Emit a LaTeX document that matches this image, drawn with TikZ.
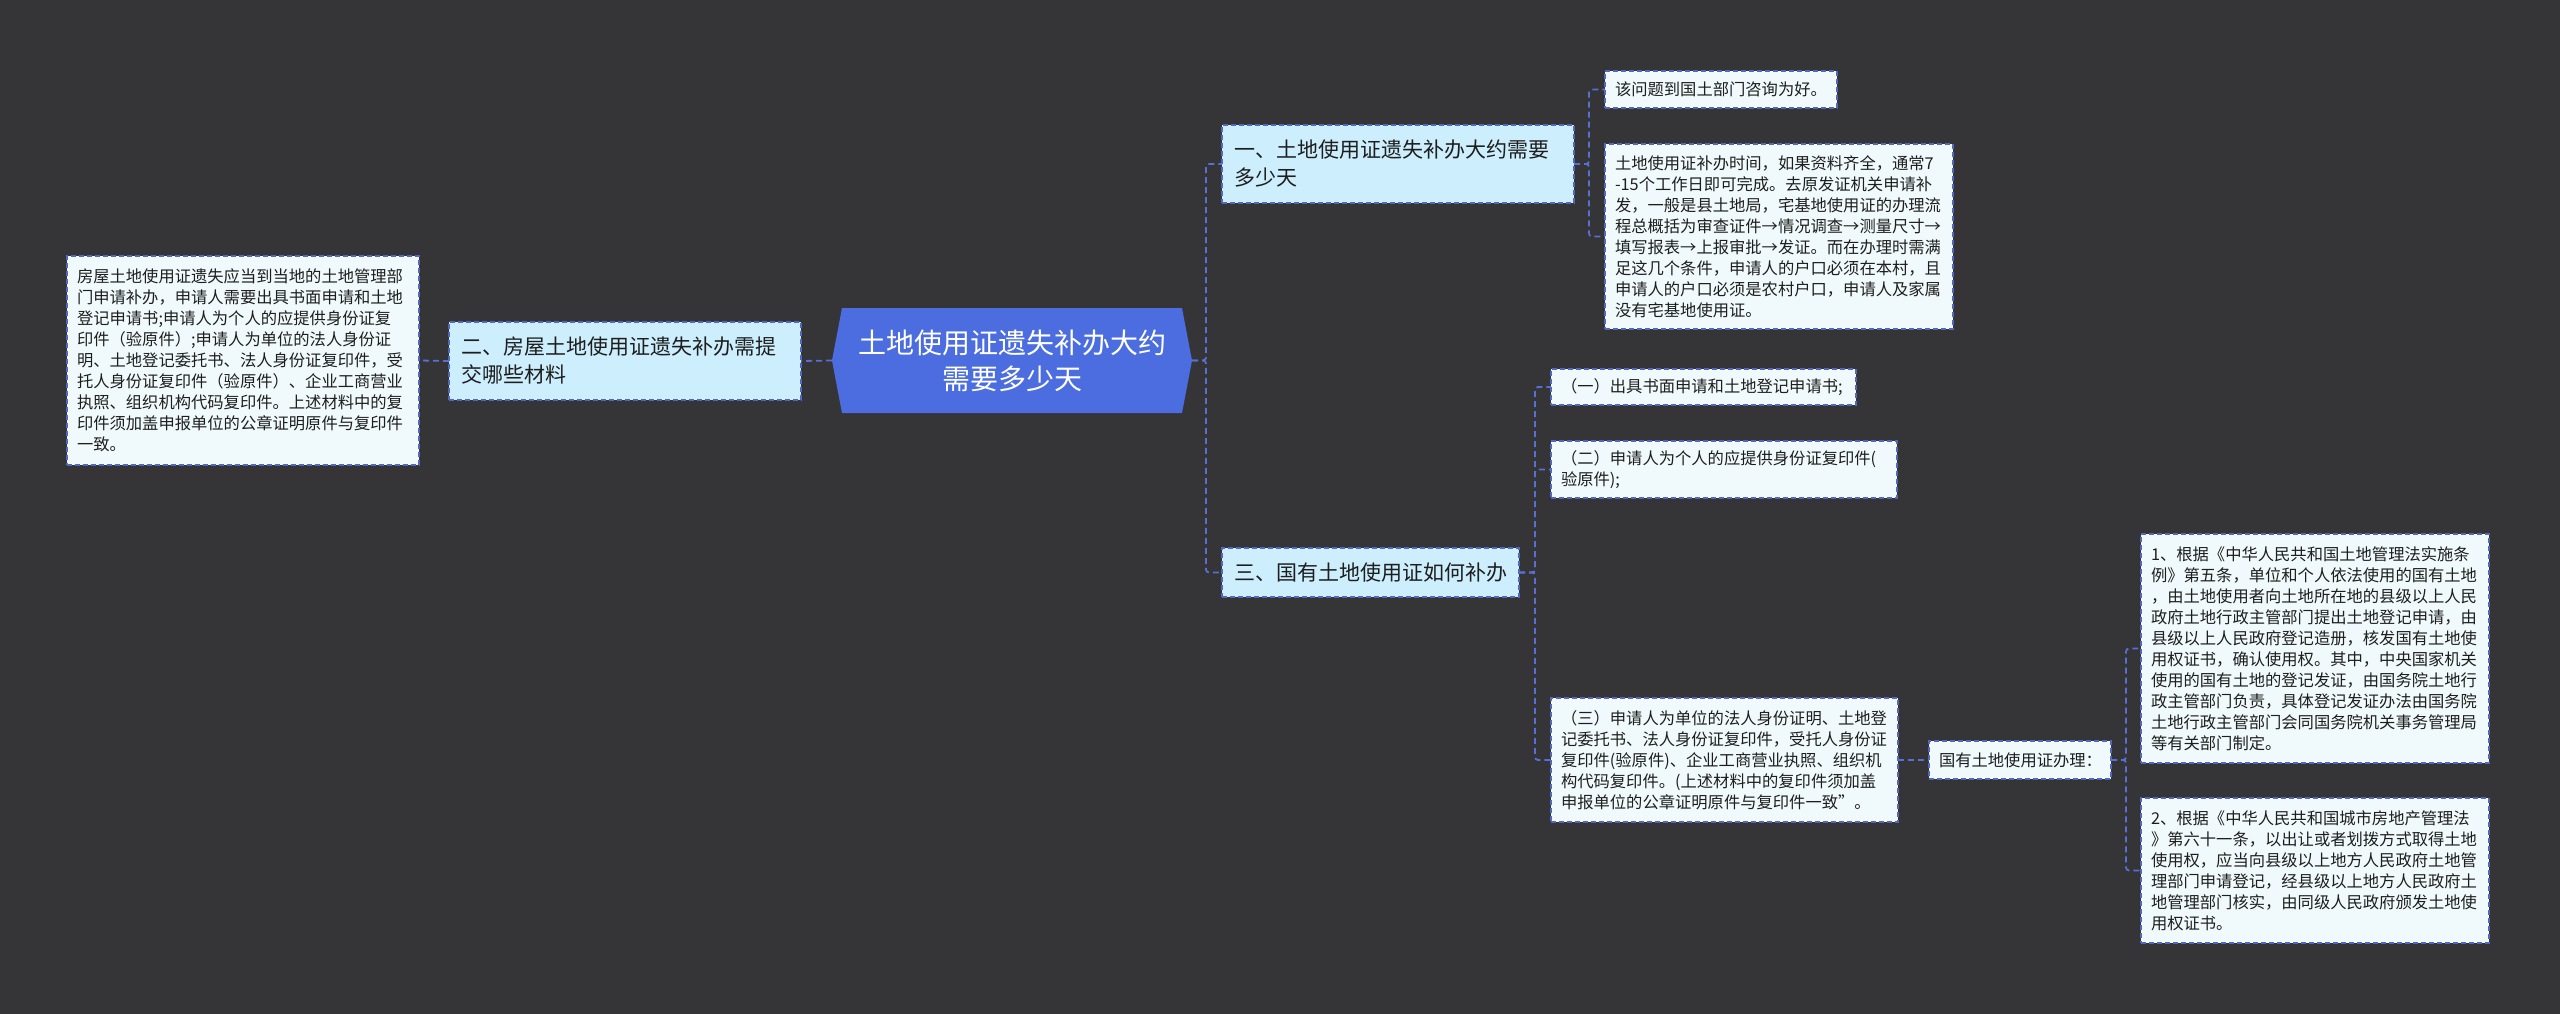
\documentclass[tikz,border=0pt]{standalone}
\usepackage{fontspec}
\setmainfont{Noto Sans CJK SC}
\definecolor{bg}{RGB}{53,52,55}
\definecolor{centerfill}{RGB}{75,109,223}
\definecolor{topicfill}{RGB}{205,238,252}
\definecolor{leaffill}{RGB}{240,250,253}
\definecolor{bordercol}{RGB}{82,104,192}
\definecolor{conncol}{RGB}{88,112,212}
\definecolor{textcol}{RGB}{30,30,30}
\begin{document}
\begin{tikzpicture}[x=1pt,y=-1pt,
  box/.style={draw=bordercol, dash pattern=on 5pt off 3pt, line width=1.5pt, text=textcol, align=left, anchor=north west, inner ysep=0pt, outer sep=0pt},
  leaf/.style={box, fill=leaffill, font=\fontsize{16.3}{21}\selectfont, inner xsep=10pt},
  topic/.style={box, fill=topicfill, font=\fontsize{21}{28}\selectfont, inner xsep=12pt},
  conn/.style={draw=conncol, line width=1.8pt, dash pattern=on 6pt off 4pt, rounded corners=3pt}]
\fill[bg] (0,0) rectangle (2560,1014);
\useasboundingbox (0,0) rectangle (2560,1014);

% central topic
\fill[centerfill] (832,360.5) -- (842,308) -- (1182,308) -- (1192,360.5) -- (1182,413) -- (842,413) -- cycle;
\node[font=\fontsize{28}{36}\selectfont, text=white, align=center, minimum width=360pt, minimum height=105pt, inner sep=0pt, outer sep=0pt] (c0) at (1012,360.5) {土地使用证遗失补办大约\\需要多少天};

% left branch
\node[topic, text width=328pt, minimum height=78pt] (n2) at (449,322) {二、房屋土地使用证遗失补办需提\\交哪些材料};
\node[leaf, text width=332pt, minimum height=209pt] (L) at (67,256) {房屋土地使用证遗失应当到当地的土地管理部\\门申请补办，申请人需要出具书面申请和土地\\登记申请书;申请人为个人的应提供身份证复\\印件（验原件）;申请人为单位的法人身份证\\明、土地登记委托书、法人身份证复印件，受\\托人身份证复印件（验原件）、企业工商营业\\执照、组织机构代码复印件。上述材料中的复\\印件须加盖申报单位的公章证明原件与复印件\\一致。};

% right branch 1
\node[topic, text width=328pt, minimum height=78pt] (n1) at (1222,125) {一、土地使用证遗失补办大约需要\\多少天};
\node[leaf, text width=212pt, minimum height=37pt] (a1) at (1605,71) {该问题到国土部门咨询为好。};
\node[leaf, text width=328pt, minimum height=185pt] (a2) at (1605,144) {土地使用证补办时间，如果资料齐全，通常7\\-15个工作日即可完成。去原发证机关申请补\\发，一般是县土地局，宅基地使用证的办理流\\程总概括为审查证件→情况调查→测量尺寸→\\填写报表→上报审批→发证。而在办理时需满\\足这几个条件，申请人的户口必须在本村，且\\申请人的户口必须是农村户口，申请人及家属\\没有宅基地使用证。};

% right branch 3
\node[topic, text width=273pt, minimum height=49pt] (n3) at (1222,548) {三、国有土地使用证如何补办};
\node[leaf, text width=285pt, minimum height=36pt] (b1) at (1551,369) {（一）出具书面申请和土地登记申请书;};
\node[leaf, text width=326pt, minimum height=57pt] (b2) at (1551,441) {（二）申请人为个人的应提供身份证复印件(\\验原件);};
\node[leaf, text width=327pt, minimum height=124pt] (b3) at (1551,698) {（三）申请人为单位的法人身份证明、土地登\\记委托书、法人身份证复印件，受托人身份证\\复印件(验原件)、企业工商营业执照、组织机\\构代码复印件。(上述材料中的复印件须加盖\\申报单位的公章证明原件与复印件一致”。};
\node[leaf, text width=162pt, minimum height=38pt] (cc) at (1929,741) {国有土地使用证办理：};
\node[leaf, text width=328pt, minimum height=229pt] (c1) at (2141,534) {1、根据《中华人民共和国土地管理法实施条\\例》第五条，单位和个人依法使用的国有土地\\，由土地使用者向土地所在地的县级以上人民\\政府土地行政主管部门提出土地登记申请，由\\县级以上人民政府登记造册，核发国有土地使\\用权证书，确认使用权。其中，中央国家机关\\使用的国有土地的登记发证，由国务院土地行\\政主管部门负责，具体登记发证办法由国务院\\土地行政主管部门会同国务院机关事务管理局\\等有关部门制定。};
\node[leaf, text width=328pt, minimum height=145pt] (c2) at (2141,798) {2、根据《中华人民共和国城市房地产管理法\\》第六十一条，以出让或者划拨方式取得土地\\使用权，应当向县级以上地方人民政府土地管\\理部门申请登记，经县级以上地方人民政府土\\地管理部门核实，由同级人民政府颁发土地使\\用权证书。};

% connectors
\draw[conn] (c0.west) -- (n2.east);
\draw[conn] (n2.west) -- (L.east);
\draw[conn] (c0.east) -- ++(14,0) |- (n1.west);
\draw[conn] (c0.east) -- ++(14,0) |- (n3.west);
\draw[conn] (n1.east) -- ++(15,0) |- (a1.west);
\draw[conn] (n1.east) -- ++(15,0) |- (a2.west);
\draw[conn] (n3.east) -- ++(16,0) |- (b1.west);
\draw[conn] (n3.east) -- ++(16,0) |- (b2.west);
\draw[conn] (n3.east) -- ++(16,0) |- (b3.west);
\draw[conn] (b3.east) -- (cc.west);
\draw[conn] (cc.east) -- ++(15,0) |- (c1.west);
\draw[conn] (cc.east) -- ++(15,0) |- (c2.west);
\end{tikzpicture}
\end{document}
